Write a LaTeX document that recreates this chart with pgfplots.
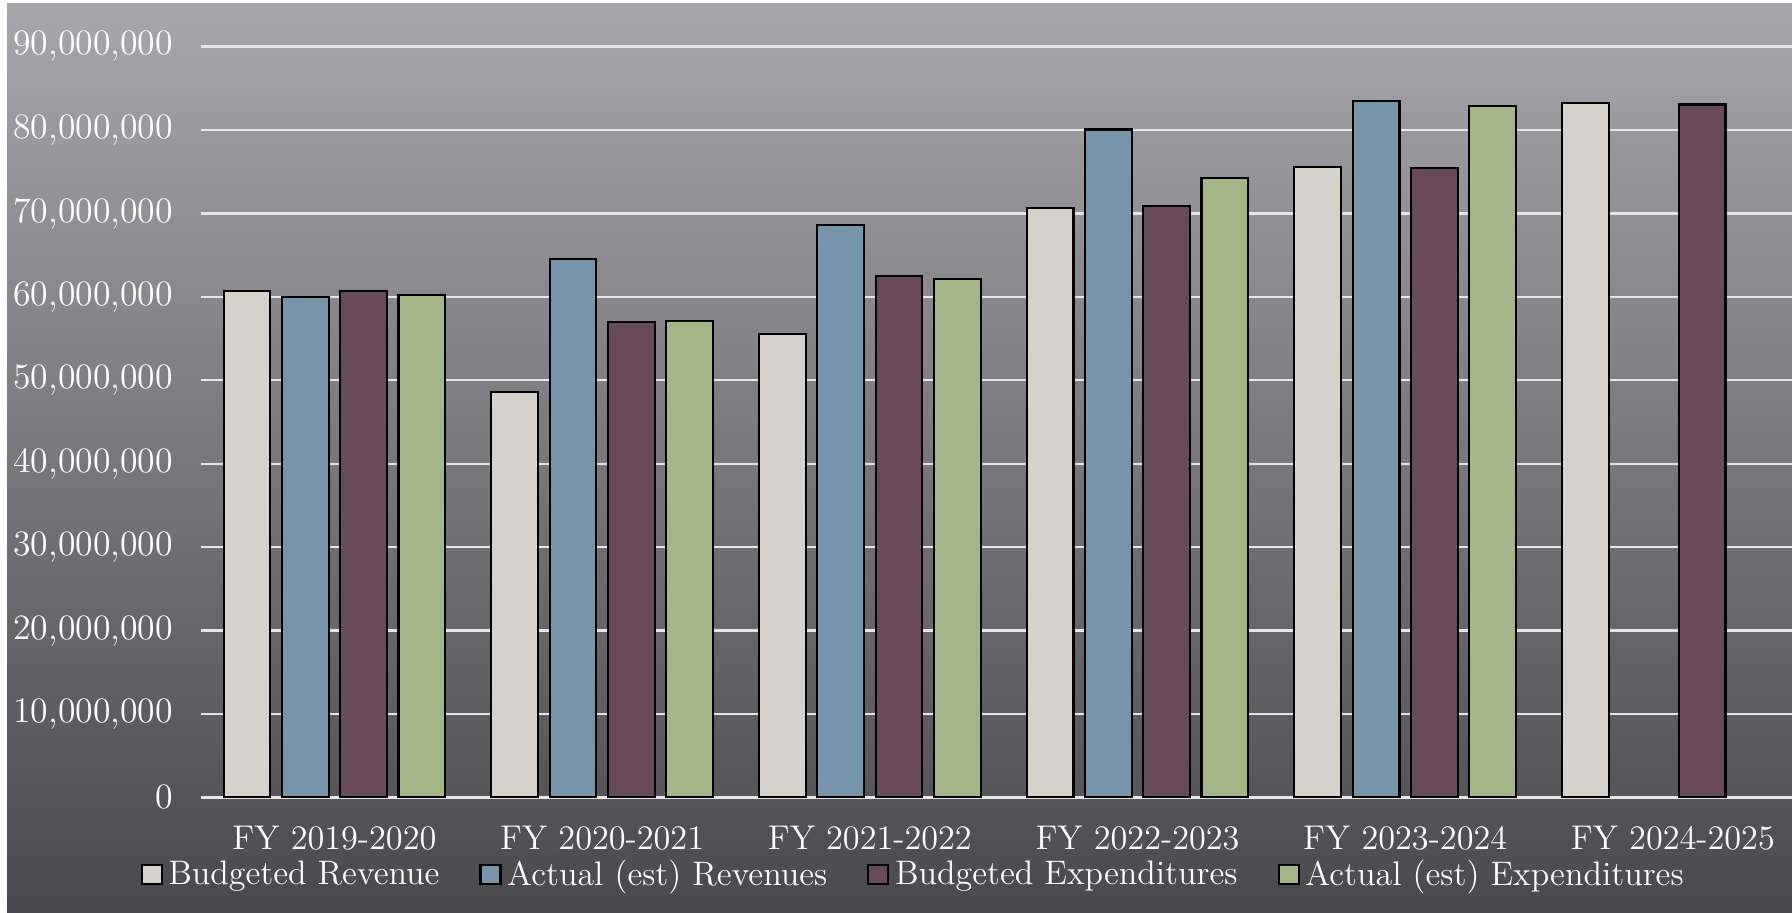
\documentclass[border=0pt]{standalone}
\usepackage{pgfplots}
\pgfplotsset{compat=1.18}

\definecolor{bgtop}{RGB}{167,166,171}
\definecolor{bgbot}{RGB}{72,72,77}
\definecolor{cbr}{RGB}{213,210,203}
\definecolor{car}{RGB}{118,149,171}
\definecolor{cbe}{RGB}{105,74,88}
\definecolor{cae}{RGB}{164,181,136}
\definecolor{gridc}{RGB}{230,230,232}

\pgfplotsset{
  budgetbar/.style={
    fill=#1, draw=black, line width=0.75pt,
    legend image code/.code={
      \draw[fill=#1, draw=black, line width=0.75pt] (0mm,-1.2mm) rectangle (2.5mm,1.2mm);
    }
  }
}

\begin{document}
\begin{tikzpicture}
% page frame and shaded backdrop
\fill[white] (0mm,0mm) rectangle (224mm,114.125mm);
\shade[top color=bgtop, bottom color=bgbot] (0.875mm,0mm) rectangle (224mm,113.625mm);
\begin{axis}[
  at={(25.075mm,14.4375mm)}, anchor=south west,
  scale only axis, width=198.925mm, height=93.875mm,
  ybar, bar width=0.175,
  xmin=-0.5, xmax=5.445,
  ymin=0, ymax=90000000,
  xtick={0,1,2,3,4,5},
  xticklabels={FY 2019-2020,FY 2020-2021,FY 2021-2022,FY 2022-2023,FY 2023-2024,FY 2024-2025},
  ytick={0,10000000,20000000,30000000,40000000,50000000,60000000,70000000,80000000,90000000},
  scaled y ticks=false,
  /pgf/number format/assume math mode=true,
  /pgf/number format/fixed,
  /pgf/number format/precision=0,
  /pgf/number format/1000 sep={,},
  major tick length=0pt,
  axis line style={draw=none},
  ymajorgrids, grid style={gridc, line width=0.85pt},
  tick label style={text=white},
  yticklabel style={font=\fontsize{12.7}{15}\selectfont, anchor=east, inner sep=0pt, xshift=-3.4mm},
  xticklabel style={font=\fontsize{12.2}{14}\selectfont, anchor=base, inner sep=0pt, yshift=-6.45mm},
  legend columns=4,
  legend cell align=left,
  legend style={at={(-0.0377,-0.1025)}, anchor=west, draw=none, fill=none,
    inner sep=0pt, outer sep=0pt, font=\fontsize{12.1}{14}\selectfont, text=white,
    /tikz/every even column/.append style={column sep=4.3mm}},
]
\addplot[budgetbar=cbr, bar shift=-0.3267] coordinates
  {(0,60660000) (1,48600000) (2,55500000) (3,70630000) (4,75550000) (5,83260000)};
\addplot[budgetbar=car, bar shift=-0.1089] coordinates
  {(0,59980000) (1,64500000) (2,68600000) (3,80060000) (4,83500000)};
\addplot[budgetbar=cbe, bar shift=0.1089] coordinates
  {(0,60660000) (1,57000000) (2,62500000) (3,70840000) (4,75400000) (5,83050000)};
\addplot[budgetbar=cae, bar shift=0.3267] coordinates
  {(0,60200000) (1,57100000) (2,62100000) (3,74270000) (4,82900000)};
\legend{Budgeted Revenue, Actual (est) Revenues, Budgeted Expenditures, Actual (est) Expenditures}
\end{axis}
\pgfresetboundingbox
\useasboundingbox (0mm,0mm) rectangle (224mm,114.125mm);
\end{tikzpicture}
\end{document}
